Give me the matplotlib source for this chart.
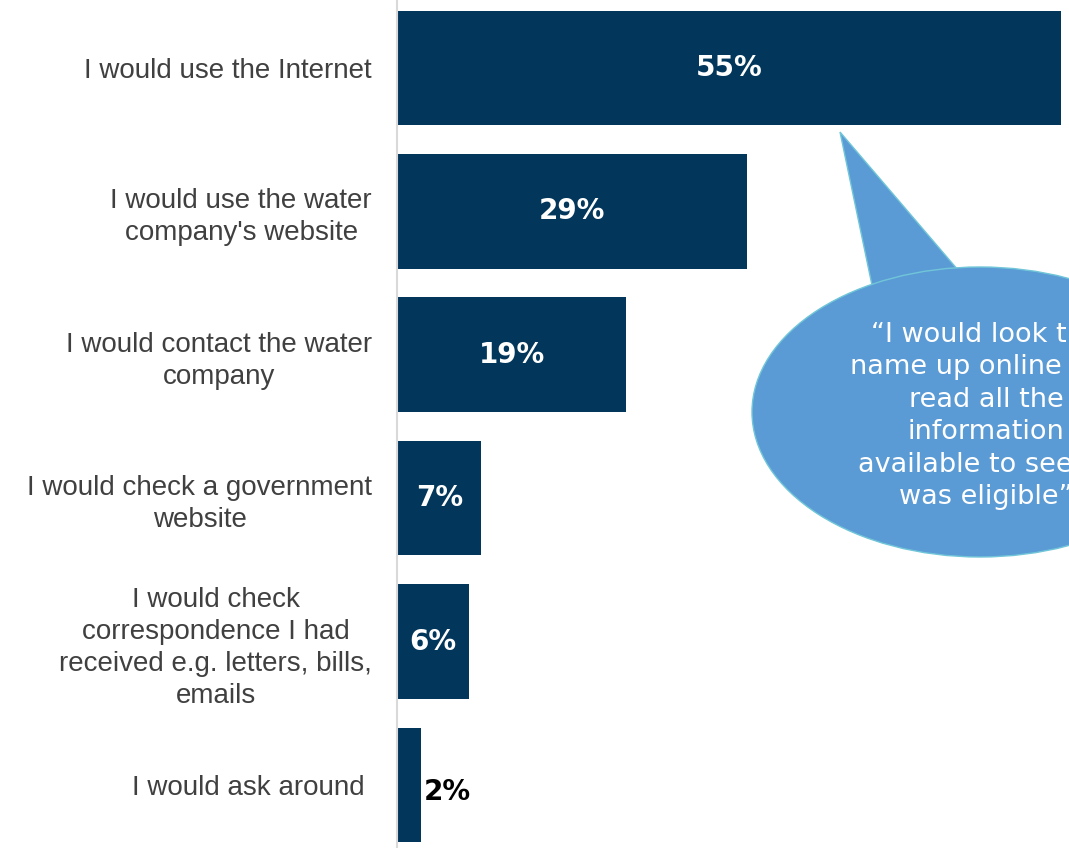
import matplotlib.pyplot as plt
from matplotlib.patches import Ellipse, Polygon
import numpy as np

categories = [
    "I would use the Internet",
    "I would use the water\ncompany's website",
    "I would contact the water\ncompany",
    "I would check a government\nwebsite",
    "I would check\ncorrespondence I had\nreceived e.g. letters, bills,\nemails",
    "I would ask around ",
]
values = [55, 29, 19, 7, 6, 2]
value_labels = ["55%", "29%", "19%", "7%", "6%", "2%"]

quote_lines = [
    "\u201cI would look the",
    "name up online and",
    "read all the",
    "information",
    "available to see if I",
    "was eligible\u201d",
]

bar_color = '#02375B'
bubble_color = '#5B9BD5'

fig = plt.figure(figsize=(10.69, 8.48), dpi=100)
ax = fig.add_axes([397 / 1069, 0, 1 - 397 / 1069, 1])

ypos = np.arange(len(categories))
ax.barh(ypos, values, height=0.8, color=bar_color)

ax.set_xlim(0, 55.7)
ax.set_ylim(5.44, -0.474)

ax.set_yticks(ypos)
ax.set_yticklabels(categories, fontsize=20, color='#404040',
                   family='Liberation Sans', multialignment='center',
                   linespacing=1.3)
ax.tick_params(axis='y', length=0, pad=18)
ax.set_xticks([])

for s in ['top', 'right', 'bottom']:
    ax.spines[s].set_visible(False)
ax.spines['left'].set_color('#D9D9D9')
ax.spines['left'].set_linewidth(1.5)

for y, v, lab in zip(ypos, values, value_labels):
    if v >= 5:
        ax.text(v / 2, y, lab, ha='center', va='center', color='white',
                fontsize=20, fontweight='bold', family='DejaVu Sans')
    else:
        ax.text(v + 0.2, y + 0.05, lab, ha='left', va='center', color='black',
                fontsize=20, fontweight='bold', family='DejaVu Sans')

# speech bubble, drawn in pixel space of the figure
W, H = 1069, 848
def px(x, y):
    return (x / W, 1 - y / H)

tail = Polygon([px(840, 132), px(873, 290), px(958, 270)], closed=True,
               transform=fig.transFigure, facecolor=bubble_color,
               edgecolor='#70C6D8', linewidth=1.0, zorder=5)
fig.patches.append(tail)
bubble = Ellipse(px(980, 412), width=456 / W, height=290 / H,
                 transform=fig.transFigure, facecolor=bubble_color,
                 edgecolor='#70C6D8', linewidth=1.0, zorder=6)
fig.patches.append(bubble)
# cover the seam between tail and ellipse
seam = Polygon([px(876, 300), px(873, 290), px(958, 270), px(962, 290)],
               closed=True, transform=fig.transFigure, facecolor=bubble_color,
               edgecolor='none', zorder=7)
fig.patches.append(seam)

fig.text(986 / W, 1 - 416 / H, "\n".join(quote_lines), ha='center', va='center',
         color='white', fontsize=19.5, family='DejaVu Sans',
         linespacing=1.32, zorder=8)

fig.savefig('out.png', dpi=100)
